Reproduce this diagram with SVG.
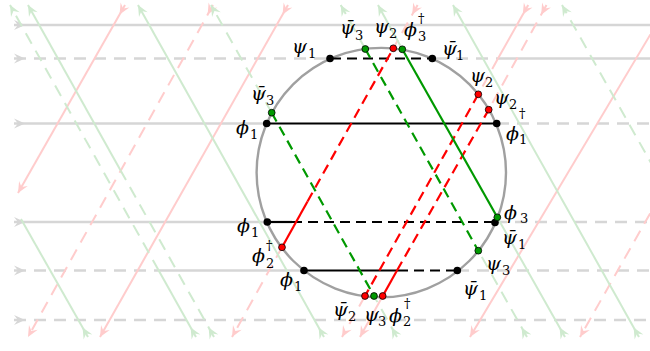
<svg xmlns="http://www.w3.org/2000/svg" width="650" height="351" viewBox="0 0 650 351">
<style>
.bg{fill:none;stroke-width:2}
.gy{stroke:#d6d6d6;stroke-width:2.6}
.rl{stroke:#ffcccc}
.gl{stroke:#cfeacf}
.d{stroke-dasharray:12 8}
.ch{fill:none;stroke-width:2.2}
.cd{stroke-dasharray:10 6}
.k{stroke:#000}
.r{stroke:#ff0000}
.g{stroke:#009900}
.t{font-family:"DejaVu Serif","Liberation Serif",serif;font-style:italic;font-size:19px;fill:#000}
.s{font-size:13px;font-style:normal}
</style>
<defs>
<marker id="gyS" viewBox="-1 -6 14 12" refX="0" refY="0" markerWidth="14" markerHeight="12" markerUnits="userSpaceOnUse" orient="auto"><path d="M11,0 L0,-5 L4,0 L0,5 Z" fill="#d6d6d6"/></marker>
<marker id="rlS" viewBox="-1 -6 14 12" refX="0" refY="0" markerWidth="14" markerHeight="12" markerUnits="userSpaceOnUse" orient="auto"><path d="M11,0 L0,-5 L4,0 L0,5 Z" fill="#ffcccc"/></marker>
<marker id="rlE" viewBox="-12 -6 14 12" refX="0" refY="0" markerWidth="14" markerHeight="12" markerUnits="userSpaceOnUse" orient="auto"><path d="M0,0 L-11,-5 L-7,0 L-11,5 Z" fill="#ffcccc"/></marker>
<marker id="glS" viewBox="-1 -6 14 12" refX="0" refY="0" markerWidth="14" markerHeight="12" markerUnits="userSpaceOnUse" orient="auto"><path d="M11,0 L0,-5 L4,0 L0,5 Z" fill="#cfeacf"/></marker>
<marker id="glE" viewBox="-12 -6 14 12" refX="0" refY="0" markerWidth="14" markerHeight="12" markerUnits="userSpaceOnUse" orient="auto"><path d="M0,0 L-11,-5 L-7,0 L-11,5 Z" fill="#cfeacf"/></marker>
</defs>
<g id="connectors">
<g id="background">
<path class="bg gy" d="M14,25 H650" marker-start="url(#gyS)"/>
<path class="bg gy d" d="M14,58.5 H331" marker-start="url(#gyS)"/>
<path class="bg gy d" d="M436,58.5 H498"/>
<path class="bg gy" d="M498,58.5 H650"/>
<path class="bg gy" d="M14,123.5 H267" marker-start="url(#gyS)"/>
<path class="bg gy d" d="M497,123.5 H650"/>
<path class="bg gy" d="M14,222 H267" marker-start="url(#gyS)"/>
<path class="bg gy d" d="M495,222 H650"/>
<path class="bg gy d" d="M14,270.5 H158.7" marker-start="url(#gyS)"/>
<path class="bg gy" d="M158.7,270.5 H304"/>
<path class="bg gy d" d="M457,270.5 H650"/>
<path class="bg gy d" d="M14,320 H650" marker-start="url(#gyS)"/>

<path class="bg rl" d="M125,5 L18,193" marker-start="url(#rlS)" marker-end="url(#rlE)"/>
<path class="bg rl d" d="M213,5 L28,337" marker-start="url(#rlS)" marker-end="url(#rlE)"/>
<path class="bg rl" d="M288,5 L100,337" marker-start="url(#rlS)" marker-end="url(#rlE)"/>
<path class="bg rl d" d="M417.6,5 L393.3,48.3" marker-start="url(#rlS)"/>
<path class="bg rl d" d="M282,247.3 L232,337" marker-end="url(#rlE)"/>
<path class="bg rl" d="M528.2,5 L498,58.5" marker-start="url(#rlS)"/>
<path class="bg rl d" d="M498,58.5 L478.3,94.3"/>
<path class="bg rl d" d="M365,296 L342,337" marker-end="url(#rlE)"/>
<path class="bg rl d" d="M546.5,5 L488.7,109.7" marker-start="url(#rlS)"/>
<path class="bg rl" d="M382.7,296 L360,337" marker-end="url(#rlE)"/>
<path class="bg rl" d="M665,10 L470,337" marker-end="url(#rlE)"/>
<path class="bg rl d" d="M660,196 L580,337" marker-end="url(#rlE)"/>

<path class="bg gl" d="M196,337 L158.7,270.5" marker-start="url(#glS)"/>
<path class="bg gl d" d="M158.7,270.5 L10,5" marker-end="url(#glE)"/>
<path class="bg gl d" d="M214,337 L120.6,170.4" marker-start="url(#glS)"/>
<path class="bg gl" d="M120.6,170.4 L28,5" marker-end="url(#glE)"/>
<path class="bg gl" d="M324,337 L138,5" marker-start="url(#glS)" marker-end="url(#glE)"/>
<path class="bg gl d" d="M271.7,112.7 L211,5" marker-end="url(#glE)"/>
<path class="bg gl d" d="M397,337 L374,296" marker-start="url(#glS)"/>
<path class="bg gl d" d="M365.3,49 L340.7,5" marker-end="url(#glE)"/>
<path class="bg gl d" d="M527,337 L478.3,250.7" marker-start="url(#glS)"/>
<path class="bg gl" d="M402.3,49.3 L378,5" marker-end="url(#glE)"/>
<path class="bg gl" d="M565,337 L497.3,217.3" marker-start="url(#glS)"/>
<path class="bg gl" d="M639,337 L453,5" marker-start="url(#glS)" marker-end="url(#glE)"/>
<path class="bg gl d" d="M655,170 L562,5" marker-end="url(#glE)"/>
<path class="bg gl" d="M88,337 L21,219" marker-start="url(#glS)"/>
</g>
<circle cx="381.3" cy="172.6" r="124.7" fill="none" stroke="#a0a0a0" stroke-width="2.4"/>
<g id="chords">
<path class="ch k cd" d="M331,58.5 H432"/>
<path class="ch k" d="M267,123.5 H497"/>
<path class="ch k" d="M267,222 H292"/>
<path class="ch k cd" d="M292,222 H495"/>
<path class="ch k" d="M304,270.5 H398"/>
<path class="ch k cd" d="M398,270.5 H457"/>
<path class="ch r" d="M282,247.3 L307.5,201.5"/>
<path class="ch r cd" d="M307.5,201.5 L393.3,48.3"/>
<path class="ch r cd" d="M478.3,94.3 L365,296"/>
<path class="ch r" d="M382.7,296 L397,270.5"/>
<path class="ch r cd" d="M397,270.5 L488.7,109.7"/>
<path class="ch g cd" d="M271.7,112.7 L374,296"/>
<path class="ch g cd" d="M365.3,49 L478.3,250.7"/>
<path class="ch g" d="M402.3,49.3 L497.3,217.3"/>
</g>
</g>
<g id="nodes">
<g id="n-black" fill="#000">
<circle cx="330" cy="58.5" r="3.8"/>
<circle cx="432.3" cy="58.5" r="3.8"/>
<circle cx="266.7" cy="123.5" r="3.8"/>
<circle cx="496.7" cy="123.5" r="3.8"/>
<circle cx="267.3" cy="222" r="3.8"/>
<circle cx="495" cy="222.5" r="3.8"/>
<circle cx="304" cy="270.5" r="3.8"/>
<circle cx="457.3" cy="270.5" r="3.8"/>
</g>
<g id="n-green" fill="#009900" stroke="#000" stroke-width="0.8">
<circle cx="365.3" cy="49" r="3.4"/>
<circle cx="402.3" cy="49.3" r="3.4"/>
<circle cx="271.7" cy="112.7" r="3.4"/>
<circle cx="497.3" cy="217.3" r="3.4"/>
<circle cx="478.3" cy="250.7" r="3.4"/>
<circle cx="374" cy="296" r="3.4"/>
</g>
<g id="n-red" fill="#ff0000" stroke="#000" stroke-width="0.8">
<circle cx="393.3" cy="48.3" r="3.4"/>
<circle cx="478.3" cy="94.3" r="3.4"/>
<circle cx="488.7" cy="109.7" r="3.4"/>
<circle cx="282" cy="247.3" r="3.4"/>
<circle cx="365" cy="296" r="3.4"/>
<circle cx="382.7" cy="296" r="3.4"/>
</g>
</g>
<g id="labels" class="t">
<text x="292" y="53">ψ<tspan class="s" x="308" y="58">1</tspan></text>
<text x="340" y="34">ψ̄<tspan class="s" x="355" y="40">3</tspan></text>
<text x="374" y="33">ψ<tspan class="s" x="389" y="38">2</tspan></text>
<text x="404" y="36">ϕ<tspan class="s" x="418" y="41">3</tspan><tspan class="s" x="418" y="23">†</tspan></text>
<text x="442" y="55">ψ̄<tspan class="s" x="456" y="60">1</tspan></text>
<text x="251" y="100">ψ̄<tspan class="s" x="266" y="105">3</tspan></text>
<text x="236" y="134">ϕ<tspan class="s" x="250" y="139">1</tspan></text>
<text x="470" y="82">ψ<tspan class="s" x="485" y="87">2</tspan></text>
<text x="494" y="104">ψ<tspan class="s" x="509" y="109">2</tspan></text>
<text x="506" y="140">ϕ<tspan class="s" x="519" y="144">1</tspan><tspan class="s" x="519" y="118">†</tspan></text>
<text x="237" y="232">ϕ<tspan class="s" x="251" y="237">1</tspan></text>
<text x="252" y="262">ϕ<tspan class="s" x="266" y="268">2</tspan><tspan class="s" x="266" y="250">†</tspan></text>
<text x="280" y="286">ϕ<tspan class="s" x="294" y="291">1</tspan></text>
<text x="504" y="219">ϕ<tspan class="s" x="520" y="223">3</tspan></text>
<text x="502" y="244">ψ̄<tspan class="s" x="518" y="249">1</tspan></text>
<text x="486" y="270">ψ<tspan class="s" x="502" y="275">3</tspan></text>
<text x="463" y="295">ψ̄<tspan class="s" x="479" y="300">1</tspan></text>
<text x="333" y="316">ψ̄<tspan class="s" x="348" y="321">2</tspan></text>
<text x="364" y="321">ψ<tspan class="s" x="378" y="326">3</tspan></text>
<text x="389" y="322">ϕ<tspan class="s" x="403" y="326">2</tspan><tspan class="s" x="404" y="308">†</tspan></text>
</g>
</svg>
